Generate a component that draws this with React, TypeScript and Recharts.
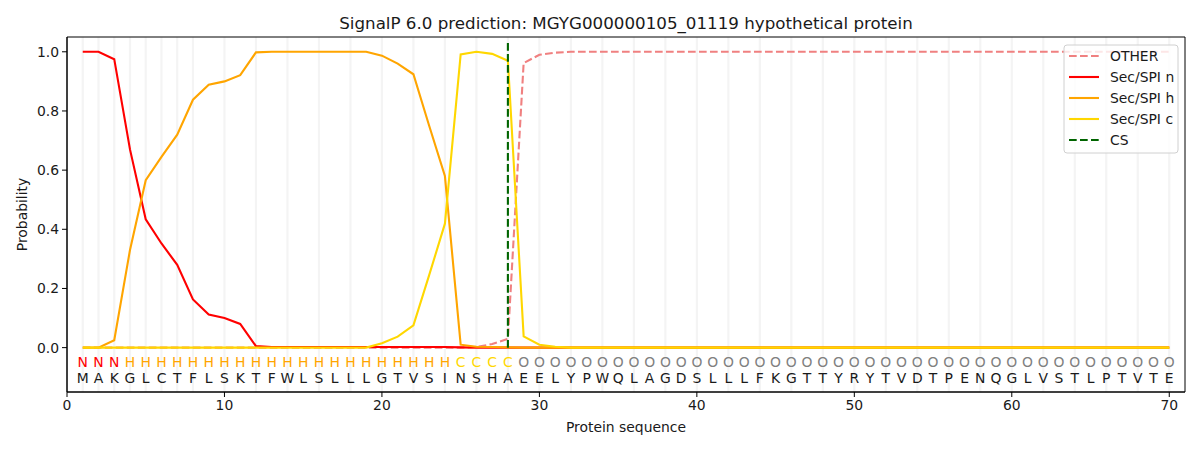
import {
  ComposedChart,
  Line,
  Scatter,
  XAxis,
  YAxis,
  CartesianGrid,
  ReferenceLine,
  ReferenceArea,
} from "recharts";

const FONT = "'DejaVu Sans', sans-serif";

const SEQUENCE = "MAKGLCTFLSKTFWLSLLLGTVSINSHAEELYPWQLAGDSLLLFKGTTYRYTVDTPENQGLVSTLPTVTE".split("");
const REGIONS = "NNNHHHHHHHHHHHHHHHHHHHHHCCCCOOOOOOOOOOOOOOOOOOOOOOOOOOOOOOOOOOOOOOOOOO".split("");

const OTHER = [
  0, 0, 0, 0, 0, 0, 0, 0, 0, 0,
  0, 0, 0, 0, 0, 0, 0, 0, 0, 0,
  0, 0, 0, 0, 0, 0.002, 0.012, 0.03, 0.962, 0.99,
  0.997, 1, 1, 1, 1, 1, 1, 1, 1, 1,
  1, 1, 1, 1, 1, 1, 1, 1, 1, 1,
  1, 1, 1, 1, 1, 1, 1, 1, 1, 1,
  1, 1, 1, 1, 1, 1, 1, 1, 1, 1,
];
const SP_N = [
  1, 1, 0.975, 0.67, 0.434, 0.352, 0.28, 0.163, 0.112, 0.1,
  0.08, 0.005, 0.002, 0.002, 0.002, 0.002, 0.002, 0.002, 0.002, 0.002,
  0.002, 0.002, 0.002, 0.002, 0.001, 0, 0, 0, 0, 0,
  0, 0, 0, 0, 0, 0, 0, 0, 0, 0,
  0, 0, 0, 0, 0, 0, 0, 0, 0, 0,
  0, 0, 0, 0, 0, 0, 0, 0, 0, 0,
  0, 0, 0, 0, 0, 0, 0, 0, 0, 0,
];
const SP_H = [
  0, 0, 0.025, 0.33, 0.566, 0.645, 0.72, 0.838, 0.889, 0.9,
  0.921, 0.998, 1, 1, 1, 1, 1, 1, 1, 0.987,
  0.96, 0.924, 0.75, 0.58, 0.01, 0.003, 0.002, 0.001, 0, 0,
  0, 0, 0, 0, 0, 0, 0, 0, 0, 0,
  0, 0, 0, 0, 0, 0, 0, 0, 0, 0,
  0, 0, 0, 0, 0, 0, 0, 0, 0, 0,
  0, 0, 0, 0, 0, 0, 0, 0, 0, 0,
];
const SP_C = [
  0, 0, 0, 0, 0, 0, 0, 0, 0, 0,
  0, 0, 0, 0, 0, 0, 0, 0, 0, 0.015,
  0.037, 0.075, 0.245, 0.419, 0.991, 1, 0.993, 0.97, 0.038, 0.01,
  0.003, 0, 0, 0, 0, 0, 0, 0, 0, 0,
  0, 0, 0, 0, 0, 0, 0, 0, 0, 0,
  0, 0, 0, 0, 0, 0, 0, 0, 0, 0,
  0, 0, 0, 0, 0, 0, 0, 0, 0, 0,
];

const CS_POS = 28;
const X_TICKS = [0, 10, 20, 30, 40, 50, 60, 70];
const Y_TICKS = [0, 0.2, 0.4, 0.6, 0.8, 1.0];

const REGION_COLORS: Record<string, string> = {
  N: "#ff0000",
  H: "#ffa500",
  C: "#ffd700",
  O: "#808080",
};

const COLORS = {
  other: "#f08080",
  n: "#ff0000",
  h: "#ffa500",
  c: "#ffd700",
  cs: "#006400",
};

const positions = SEQUENCE.map((_, i) => i + 1);
const data = positions.map((pos, i) => ({
  pos,
  other: OTHER[i],
  n: SP_N[i],
  h: SP_H[i],
  c: SP_C[i],
}));
const regionRow = positions.map((pos, i) => ({ pos, y: -0.047, ch: REGIONS[i] }));
const seqRow = positions.map((pos, i) => ({ pos, y: -0.102, ch: SEQUENCE[i] }));

const letterShape = (colored: boolean) => (props: any) => {
  const ch = props.payload.ch;
  return (
    <text
      x={props.cx}
      y={props.cy}
      textAnchor="middle"
      dominantBaseline="central"
      fontSize={13.9}
      fontFamily={FONT}
      fill={colored ? REGION_COLORS[ch] : "#1a1a1a"}
    >
      {ch}
    </text>
  );
};

const legendItems = [
  { label: "OTHER", color: COLORS.other, dash: "7.7 3.3" },
  { label: "Sec/SPI n", color: COLORS.n },
  { label: "Sec/SPI h", color: COLORS.h },
  { label: "Sec/SPI c", color: COLORS.c },
  { label: "CS", color: COLORS.cs, dash: "7.7 3.3" },
];

function LegendBox() {
  return (
    <svg
      width={116}
      height={110}
      style={{ position: "absolute", left: 1063, top: 44 }}
    >
      <rect x={1} y={1} width={114} height={108} rx={3} fill="rgba(255,255,255,0.8)" stroke="#d0d0d0" />
      {legendItems.map((it, i) => {
        const y = 12 + i * 21;
        return (
          <g key={it.label}>
            <line x1={6} x2={36} y1={y} y2={y} stroke={it.color} strokeWidth={2.1} strokeDasharray={it.dash} />
            <text x={47} y={y} dominantBaseline="central" fontSize={13.9} fontFamily={FONT} fill="#1a1a1a">
              {it.label}
            </text>
          </g>
        );
      })}
    </svg>
  );
}

const yLabel = (props: any) => {
  const vb = props.viewBox;
  const cx = 22;
  const cy = vb.y + vb.height / 2;
  return (
    <text
      x={cx}
      y={cy}
      transform={`rotate(-90 ${cx} ${cy})`}
      textAnchor="middle"
      dominantBaseline="central"
      fontSize={13.9}
      fontFamily={FONT}
      fill="#1a1a1a"
    >
      Probability
    </text>
  );
};

const xLabel = (props: any) => {
  const vb = props.viewBox;
  return (
    <text
      x={vb.x + vb.width / 2}
      y={427}
      textAnchor="middle"
      dominantBaseline="central"
      fontSize={13.9}
      fontFamily={FONT}
      fill="#1a1a1a"
    >
      Protein sequence
    </text>
  );
};

export default function App() {
  const tick = { fontSize: 13.9, fontFamily: FONT, fill: "#1a1a1a" };
  return (
    <div style={{ position: "absolute", left: 0, top: 0, width: 1200, height: 450, background: "#fff" }}>
      <div
        style={{
          position: "absolute",
          left: 0,
          width: 1252,
          top: 12,
          textAlign: "center",
          fontFamily: FONT,
          fontSize: 16.7,
          color: "#1a1a1a",
          lineHeight: "22px",
        }}
      >
        SignalP 6.0 prediction: MGYG000000105_01119 hypothetical protein
      </div>
      <ComposedChart
        width={1200}
        height={450}
        data={data}
        margin={{ top: 37, right: 15, bottom: 0, left: 7 }}
      >
        <CartesianGrid
          horizontal={false}
          verticalValues={positions}
          stroke="#f4f4f4"
          strokeWidth={2.2}
        />
        <XAxis
          dataKey="pos"
          type="number"
          domain={[0, 71]}
          ticks={X_TICKS}
          allowDataOverflow
          height={58}
          tick={tick}
          tickSize={5}
          tickMargin={3}
          stroke="#000"
          label={{ content: xLabel }}
        />
        <YAxis
          type="number"
          domain={[-0.15, 1.05]}
          ticks={Y_TICKS}
          allowDataOverflow
          width={60}
          tick={tick}
          tickSize={5}
          tickMargin={3}
          tickFormatter={(v: number) => v.toFixed(1)}
          stroke="#000"
          label={{ content: yLabel }}
        />
        <Line dataKey="other" stroke={COLORS.other} strokeWidth={2.1} strokeDasharray="7.7 3.3" dot={false} isAnimationActive={false} />
        <Line dataKey="n" stroke={COLORS.n} strokeWidth={2.1} dot={false} isAnimationActive={false} />
        <Line dataKey="h" stroke={COLORS.h} strokeWidth={2.1} dot={false} isAnimationActive={false} />
        <Line dataKey="c" stroke={COLORS.c} strokeWidth={2.1} dot={false} isAnimationActive={false} />
        <ReferenceLine
          segment={[{ x: CS_POS, y: 0 }, { x: CS_POS, y: 1.035 }]}
          stroke={COLORS.cs}
          strokeWidth={2.1}
          strokeDasharray="7.7 3.3"
        />
        <Scatter data={regionRow} dataKey="y" shape={letterShape(true)} isAnimationActive={false} />
        <Scatter data={seqRow} dataKey="y" shape={letterShape(false)} isAnimationActive={false} />
        <ReferenceArea x1={0} x2={71} y1={-0.15} y2={1.05} fill="none" stroke="#000" strokeWidth={1} ifOverflow="visible" />
      </ComposedChart>
      <LegendBox />
    </div>
  );
}
